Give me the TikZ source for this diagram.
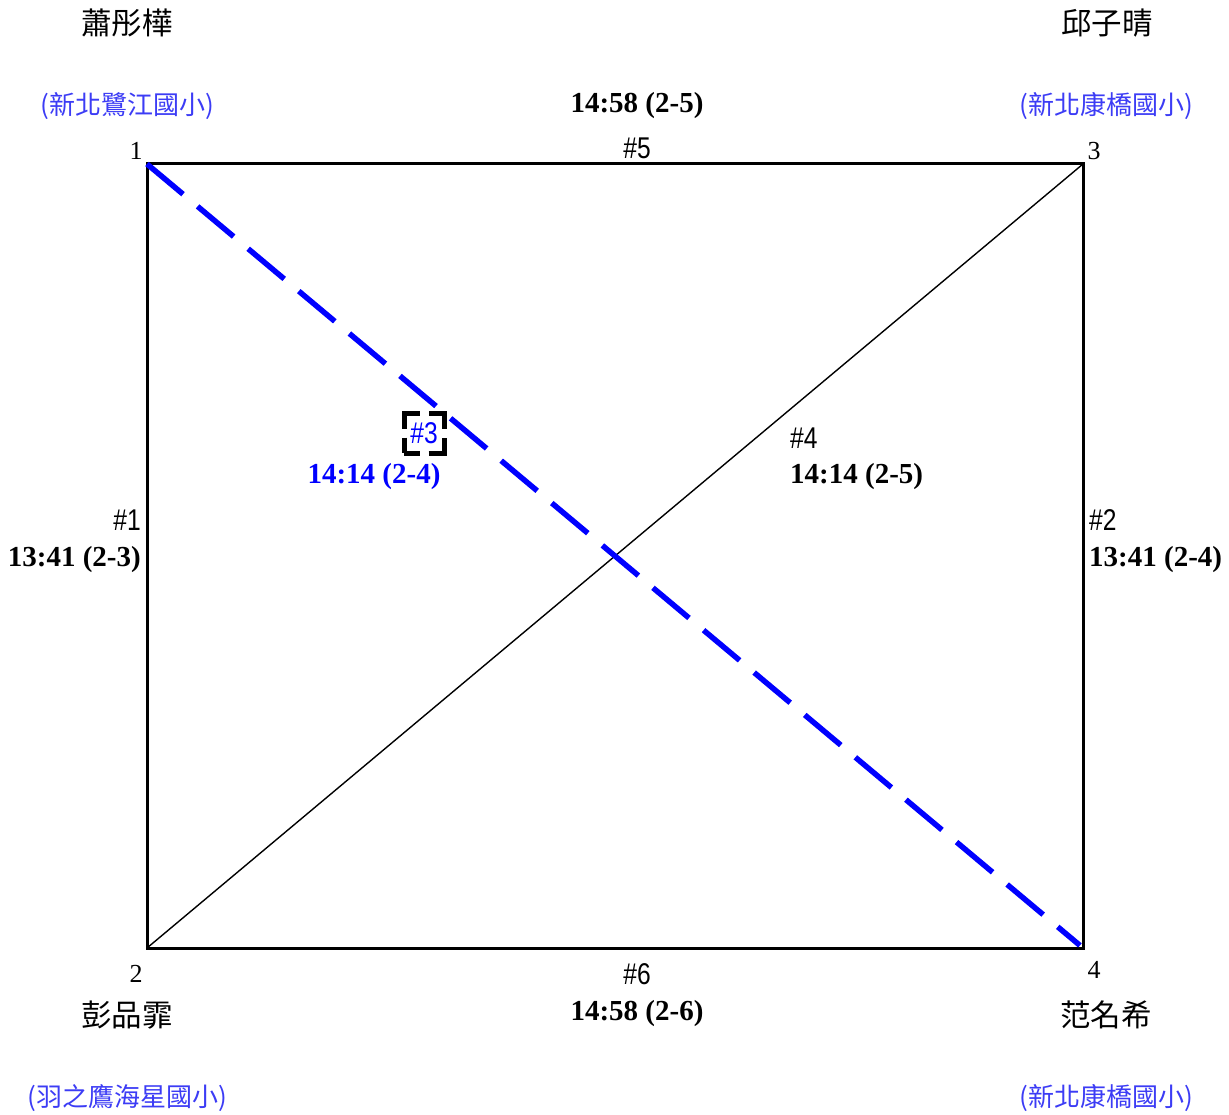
\documentclass[tikz,border=0pt]{standalone}
\usepackage{fontspec}
\setmainfont{Liberation Serif}
\newfontfamily\cjk{Noto Sans CJK TC}
\newfontfamily\narrowsans[FakeStretch=0.82]{Liberation Sans}
\definecolor{lineblue}{RGB}{0, 0, 255}
\definecolor{schoolblue}{RGB}{60, 60, 245}
\usetikzlibrary{positioning}

\tikzset{
  player/.style={font=\cjk\fontsize{30.5}{32}\selectfont, inner sep=0pt},
  school/.style={font=\cjk\fontsize{26}{28}\selectfont, text=schoolblue, inner sep=0pt},
  corner/.style={font=\fontsize{26}{28}\selectfont, inner sep=0pt},
  court/.style={font=\narrowsans\fontsize{30}{32}\selectfont, inner sep=0pt},
  time/.style={font=\bfseries\fontsize{29}{31}\selectfont, inner sep=0pt},
  frame/.style={line width=3pt},
  thinline/.style={line width=1.4pt},
  bluedash/.style={draw=lineblue, line width=5.5pt, dash pattern=on 47pt off 19pt}
}

\begin{document}
\begin{tikzpicture}[x=1pt, y=-1pt]
  \useasboundingbox (0,0) rectangle (1229,1115);

  % players at the four corners
  \coordinate (p1) at (147,164);
  \coordinate (p2) at (147,948);
  \coordinate (p3) at (1083,164);
  \coordinate (p4) at (1083,948);

  \node[player] (n1) at (127,23) {蕭彤樺};
  \node[school] (s1) at (127,106) {(新北鷺江國小)};
  \node[corner] (c1) at (136,151) {1};

  \node[player] (n3) at (1107,23) {邱子晴};
  \node[school] (s3) at (1106,106) {(新北康橋國小)};
  \node[corner] (c3) at (1094,151) {3};

  \node[corner] (c2) at (136,974) {2};
  \node[player] (n2) at (127,1015) {彭品霏};
  \node[school] (s2) at (127,1098) {(羽之鷹海星國小)};

  \node[corner] (c4) at (1094,970) {4};
  \node[player] (n4) at (1106,1015) {范名希};
  \node[school] (s4) at (1106,1098) {(新北康橋國小)};

  % lines
  \draw[frame] (p1) -- (p3) -- (p4) -- (p2) -- cycle;
  \draw[thinline] (p2) -- (p3);
  \draw[bluedash, shorten >=4pt] (p1) -- (p4);

  % matches
  \node[time] (t5) at (637,106) {14:58 (2-5)};
  \node[court] (m5) at (637,148) {\#5};

  \node[court, anchor=east] (m1) at (141,520) {\#1};
  \node[time, anchor=east] (t1) at (141,560) {13:41 (2-3)};

  \node[court, anchor=west] (m2) at (1089,520) {\#2};
  \node[time, anchor=west] (t2) at (1089,560) {13:41 (2-4)};

  \node[court, anchor=west] (m4) at (790,438) {\#4};
  \node[time, anchor=west] (t4) at (790,477) {14:14 (2-5)};

  \node[court, text=lineblue, draw=black, fill=white, line width=5pt,
        minimum size=40pt, dash pattern=on 31pt off 9pt, dash phase=15.5pt] (m3) at (424,433) {\#3};
  \node[time, text=lineblue] (t3) at (374,477) {14:14 (2-4)};

  \node[court] (m6) at (637,974) {\#6};
  \node[time] (t6) at (637,1014) {14:58 (2-6)};
\end{tikzpicture}
\end{document}
